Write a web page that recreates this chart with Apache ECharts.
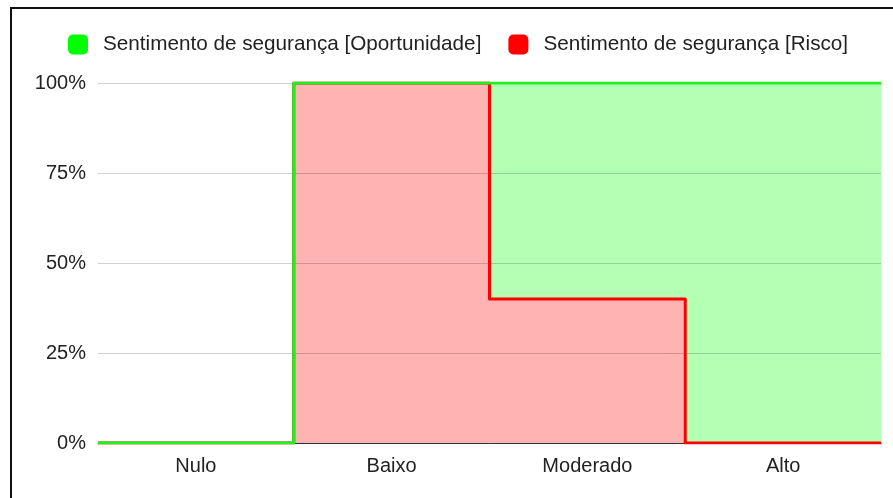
<!DOCTYPE html>
<html>
<head>
<meta charset="utf-8">
<script src="https://cdn.jsdelivr.net/npm/echarts@6/dist/echarts.min.js"></script>
<style>
html,body{margin:0;padding:0;background:#fff;}
#wrap{position:relative;width:893px;height:498px;overflow:hidden;}
#chart{position:absolute;left:0;top:0;width:893px;height:498px;}
.bt{position:absolute;left:10px;top:7px;width:883px;height:2px;background:#111;}
.bl{position:absolute;left:10px;top:7px;width:2px;height:491px;background:#111;}
</style>
</head>
<body>
<div id="wrap">
  <div id="chart"></div>
  <div class="bt"></div>
  <div class="bl"></div>
</div>
<script>
const categories = ['Nulo', 'Baixo', 'Moderado', 'Alto'];
const oportunidade = [0, 100, 100, 100];
const risco = [0, 100, 40, 0];
const yTicks = [0, 25, 50, 75, 100];
const nameOp = 'Sentimento de segurança [Oportunidade]';
const nameRi = 'Sentimento de segurança [Risco]';

function stepPoints(vals) {
  const pts = vals.map((v, i) => [i, v]);
  pts.push([vals.length, vals[vals.length - 1]]);
  return pts;
}

const font = 'Arial, "Liberation Sans", sans-serif';
const chart = echarts.init(document.getElementById('chart'), null, {renderer: 'canvas'});
chart.setOption({
  animation: false,
  backgroundColor: '#fff',
  legend: {
    data: [nameOp, nameRi],
    left: 68,
    top: 34,
    padding: 0,
    icon: 'roundRect',
    itemWidth: 20,
    itemHeight: 20,
    itemGap: 27,
    textStyle: {fontFamily: font, fontSize: 20.7, color: '#222', padding: [0, 0, 0, 10]}
  },
  grid: {left: 98, right: 12, top: 83, bottom: 55, containLabel: false},
  xAxis: [{
    type: 'category',
    data: categories,
    boundaryGap: true,
    z: 4,
    axisLine: {show: true, lineStyle: {color: '#333', width: 1}},
    axisTick: {show: false},
    axisLabel: {fontFamily: font, fontSize: 20, color: '#222', margin: 13},
    splitLine: {show: false}
  }, {
    type: 'value',
    min: 0,
    max: categories.length,
    show: false
  }],
  yAxis: {
    type: 'value',
    min: yTicks[0],
    max: yTicks[yTicks.length - 1],
    interval: 25,
    z: 4,
    axisLine: {show: false},
    axisTick: {show: false},
    axisLabel: {fontFamily: font, fontSize: 20, color: '#222', margin: 12, formatter: v => v + '%'},
    splitLine: {lineStyle: {color: 'rgba(0,0,0,0.18)', width: 1}}
  },
  series: [
    {
      name: nameOp, type: 'line', xAxisIndex: 1, step: 'end', z: 2,
      data: stepPoints(oportunidade), showSymbol: false, symbol: 'none',
      itemStyle: {color: '#00ff00'},
      lineStyle: {width: 0, opacity: 0},
      areaStyle: {color: '#b3ffb3', opacity: 1}
    },
    {
      name: nameRi, type: 'line', xAxisIndex: 1, step: 'end', z: 3,
      data: stepPoints(risco), showSymbol: false, symbol: 'none',
      itemStyle: {color: '#ff0000'},
      lineStyle: {width: 0, opacity: 0},
      areaStyle: {color: '#ffb3b3', opacity: 1}
    },
    {
      name: nameRi, type: 'line', xAxisIndex: 1, step: 'end', z: 5,
      data: stepPoints(risco), showSymbol: false, symbol: 'none',
      itemStyle: {color: '#ff0000'},
      lineStyle: {width: 3, color: '#ff0000', join: 'round'}
    },
    {
      name: nameOp, type: 'line', xAxisIndex: 1, step: 'end', z: 6,
      data: stepPoints(oportunidade), showSymbol: false, symbol: 'none',
      itemStyle: {color: '#00ff00'},
      lineStyle: {width: 3, color: '#22ee22', join: 'round'}
    }
  ]
});
</script>
</body>
</html>
